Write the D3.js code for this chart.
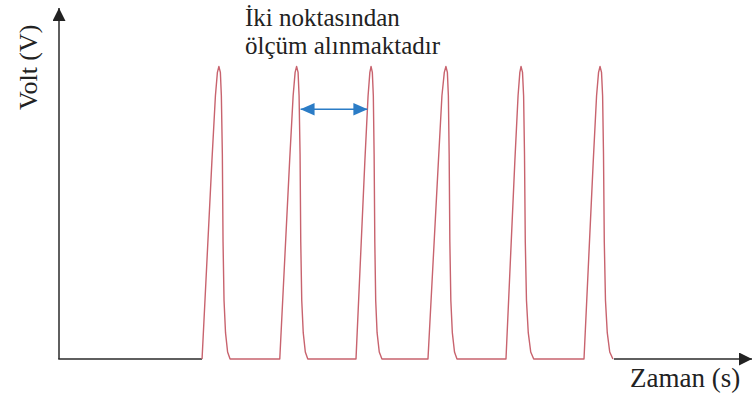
<!DOCTYPE html>
<html>
<head>
<meta charset="utf-8">
<script src="https://cdn.jsdelivr.net/npm/d3@7"></script>
<style>
  html, body { margin: 0; padding: 0; background: #fff; }
  svg { display: block; }
  text { font-family: "Liberation Serif", "DejaVu Serif", serif; fill: #222; }
</style>
</head>
<body>
<div id="chart"></div>
<script>
// Signal: time (s) and voltage (V), six pulses
const time = [
  14.45, 14.95, 15.45, 15.8, 16.0, 16.15, 16.3, 16.4, 16.5, 16.57, 16.67, 16.82, 17.03, 17.28,
  22.3, 22.8, 23.3, 23.65, 23.85, 24.0, 24.15, 24.25, 24.35, 24.42, 24.52, 24.67, 24.88, 25.13,
  30.0, 30.45, 30.9, 31.22, 31.4, 31.52, 31.65, 31.75, 31.83, 31.9, 31.99, 32.13, 32.35, 32.62,
  37.27, 37.8, 38.33, 38.68, 38.92, 39.08, 39.23, 39.33, 39.41, 39.48, 39.58, 39.73, 39.95, 40.2,
  45.15, 45.6, 46.05, 46.37, 46.55, 46.67, 46.82, 46.93, 47.02, 47.1, 47.22, 47.4, 47.65, 47.95,
  53.03, 53.5, 53.97, 54.3, 54.5, 54.65, 54.8, 54.91, 55.0, 55.08, 55.2, 55.38, 55.63, 55.95
];
const volt = [
  0, 1.7, 3.4, 4.5, 4.9, 5, 4.9, 4.5, 3.5, 2.0, 1.0, 0.45, 0.12, 0,
  0, 1.7, 3.4, 4.5, 4.9, 5, 4.9, 4.5, 3.5, 2.0, 1.0, 0.45, 0.12, 0,
  0, 1.7, 3.4, 4.5, 4.9, 5, 4.9, 4.5, 3.5, 2.0, 1.0, 0.45, 0.12, 0,
  0, 1.7, 3.4, 4.5, 4.9, 5, 4.9, 4.5, 3.5, 2.0, 1.0, 0.45, 0.12, 0,
  0, 1.7, 3.4, 4.5, 4.9, 5, 4.9, 4.5, 3.5, 2.0, 1.0, 0.45, 0.12, 0,
  0, 1.7, 3.4, 4.5, 4.9, 5, 4.9, 4.5, 3.5, 2.0, 1.0, 0.45, 0.12, 0
];
const timeDomain = [0, 70];
const voltDomain = [0, 6];

// Measurement span between two pulses
const spanVolt = 4.27;
const spanFrom = 24.4;
const spanTo = 31.15;

const noteLines = ["İki noktasından", "ölçüm alınmaktadır"];
const xLabel = "Zaman (s)";
const yLabel = "Volt (V)";

function drawChart(container) {
    const width = 752,
          height = 396,
          margin = {top: 8, right: 0, bottom: 37, left: 59};

    const svg = d3.select(container)
        .append('svg')
            .attr('width', width)
            .attr('height', height);

    const x = d3.scaleLinear()
        .domain(timeDomain)
        .range([margin.left, width - margin.right]);

    const y = d3.scaleLinear()
        .domain(voltDomain)
        .range([height - margin.bottom, margin.top]);

    const data = time.map((t, i) => ({t: t, v: volt[i]}));

    const defs = svg.append('defs');
    defs.append('marker')
        .attr('id', 'axis-head')
        .attr('viewBox', '0 0 10 10')
        .attr('refX', 10).attr('refY', 5)
        .attr('markerUnits', 'userSpaceOnUse')
        .attr('markerWidth', 13).attr('markerHeight', 13)
        .attr('orient', 'auto')
      .append('path')
        .attr('d', 'M0,0 L10,5 L0,10 Z')
        .style('fill', '#222');

    defs.append('marker')
        .attr('id', 'span-head')
        .attr('viewBox', '0 0 10 10')
        .attr('refX', 10).attr('refY', 5)
        .attr('markerUnits', 'userSpaceOnUse')
        .attr('markerWidth', 14).attr('markerHeight', 14)
        .attr('orient', 'auto-start-reverse')
      .append('path')
        .attr('d', 'M0,0.5 L10,5 L0,9.5 Z')
        .style('fill', '#2b7cc6');

    const axes = svg.append('g').classed('axes', true);

    // vertical axis
    axes.append('line')
        .attr('x1', x(0)).attr('x2', x(0))
        .attr('y1', y(0)).attr('y2', y(voltDomain[1]))
        .style('stroke', '#2a2a2a')
        .style('stroke-width', 1.5)
        .attr('marker-end', 'url(#axis-head)');

    // horizontal axis, before and after the signal
    axes.append('line')
        .attr('x1', x(0) - 0.75).attr('x2', x(time[0]))
        .attr('y1', y(0)).attr('y2', y(0))
        .style('stroke', '#2a2a2a')
        .style('stroke-width', 1.5);

    axes.append('line')
        .attr('x1', x(time[time.length - 1]) + 1).attr('x2', x(timeDomain[1]))
        .attr('y1', y(0)).attr('y2', y(0))
        .style('stroke', '#2a2a2a')
        .style('stroke-width', 1.5)
        .attr('marker-end', 'url(#axis-head)');

    const line = d3.line()
        .x(d => x(d.t))
        .y(d => y(d.v));

    svg.append('path')
        .datum(data)
        .classed('signal', true)
        .attr('d', line)
        .style('fill', 'none')
        .style('stroke', '#c8636e')
        .style('stroke-width', 1.4)
        .style('stroke-linejoin', 'round');

    svg.append('line')
        .classed('span', true)
        .attr('x1', x(spanFrom)).attr('x2', x(spanTo))
        .attr('y1', y(spanVolt)).attr('y2', y(spanVolt))
        .style('stroke', '#2b7cc6')
        .style('stroke-width', 1.6)
        .attr('marker-start', 'url(#span-head)')
        .attr('marker-end', 'url(#span-head)');

    svg.append('g')
        .classed('note', true)
        .selectAll('text')
        .data(noteLines)
        .enter().append('text')
            .attr('x', 245)
            .attr('y', (d, i) => 26 + i * 28)
            .style('font-size', '25px')
            .text(d => d);

    svg.append('text')
        .classed('x-label', true)
        .attr('x', 630)
        .attr('y', 387)
        .style('font-size', '27px')
        .text(xLabel);

    svg.append('text')
        .classed('y-label', true)
        .attr('transform', 'translate(37,110) rotate(-90)')
        .style('font-size', '26px')
        .text(yLabel);
}

drawChart('#chart');
</script>
</body>
</html>
